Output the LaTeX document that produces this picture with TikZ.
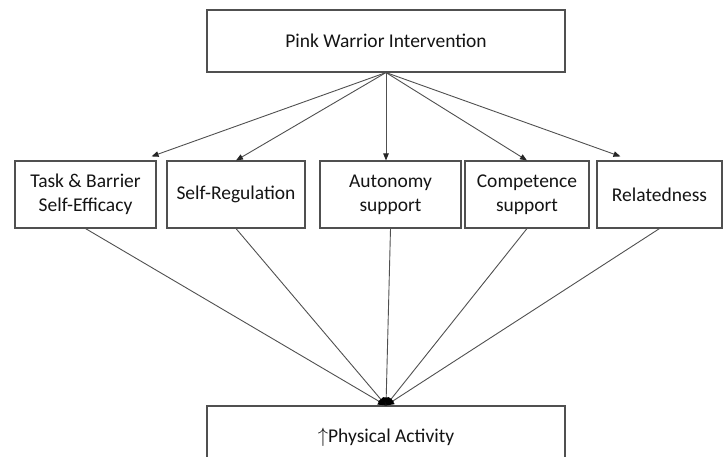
\documentclass[tikz,border=0pt]{standalone}
\usepackage{fontspec}
\setmainfont{Carlito}
\usepackage{tikz}
\usetikzlibrary{arrows.meta,positioning,calc}
\definecolor{linegray}{RGB}{80,80,80}
\definecolor{txtgray}{RGB}{20,20,20}
\tikzset{
  box/.style={draw=linegray, line width=1.1pt, rectangle, align=center, font=\fontsize{19.5}{24}\selectfont, text=txtgray, inner sep=3pt, fill=white},
  arr/.style={-{Triangle[length=7pt, width=5.5pt, color=black!85]}, line width=0.9pt, draw=linegray},
  cnv/.style={-{Triangle[length=8pt, width=7pt, color=black]}, line width=0.9pt, draw=linegray},
}
\begin{document}
\begin{tikzpicture}[x=1pt,y=-1pt]
\useasboundingbox (0,0) rectangle (727,457);
\node[box, minimum width=358pt, minimum height=62pt] (piw) at (386,41) {Pink Warrior Intervention};
\foreach \n/\t/\x/\w in {te/{Task \& Barrier\\Self-Efficacy}/85.5/141, sr/{Self-Regulation}/236/138, au/{Autonomy\\support}/390.5/141, cs/{Competence\\support}/527/124, rl/{Relatedness}/659.5/125} {
  \node[box, minimum width=\w pt, minimum height=67pt] (\n) at (\x,194.5) {\t};
}
\node[box, minimum width=358pt, minimum height=62pt] (pa) at (386,437) {$\uparrow$Physical Activity};
\draw[arr] (piw.south) -- ($(te.north east)+(-5,-4)$);
\draw[arr] (piw.south) -- (sr.north);
\draw[arr] (piw.south) -- (piw.south |- au.north);
\draw[arr] (piw.south) -- (cs.north);
\draw[arr] (piw.south) -- ($(rl.north west)+(24,-4)$);
\foreach \n in {te,sr,au,cs,rl} {
  \draw[cnv] (\n.south) -- (pa.north);
}
\end{tikzpicture}
\end{document}
